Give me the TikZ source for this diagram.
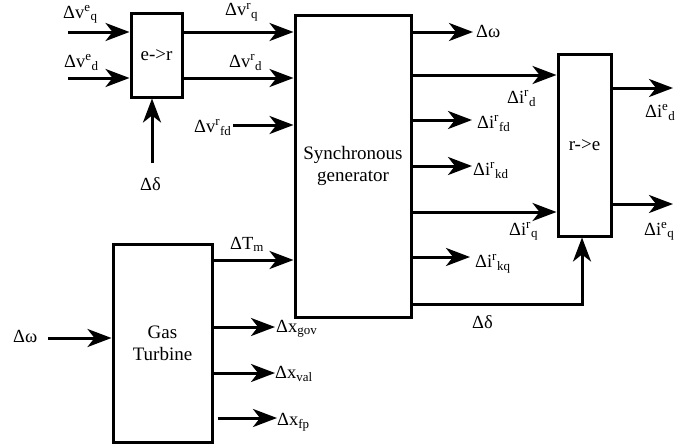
\documentclass[tikz,border=0pt]{standalone}
\usepackage{fontspec}
\setmainfont{Liberation Serif}
\newfontfamily\tms{Liberation Serif}
\usetikzlibrary{arrows.meta}
\tikzset{
  blk/.style={draw, line width=3pt, inner sep=0pt, align=center, font=\tms\fontsize{19}{22}\selectfont},
  arr/.style={line width=3pt, -{Stealth[length=24pt,width=18pt,inset=7pt]}},
  lab/.style={inner sep=0pt, anchor=base west, font=\tms\fontsize{18.5}{21}\selectfont},
}
\newcommand{\sv}[2]{\textsuperscript{#1}\textsubscript{#2}}
\begin{document}
\begin{tikzpicture}[x=1pt,y=-1pt]
\useasboundingbox (0,0) rectangle (679,447);
% blocks
\node[blk, minimum width=51pt, minimum height=84pt] (er) at (156.5,55) {e->r};
\node[blk, minimum width=116pt, minimum height=302pt] (sg) at (353,166) {Synchronous\\generator};
\node[blk, minimum width=53pt, minimum height=182pt] (re) at (584.5,145) {r->e};
\node[blk, minimum width=99pt, minimum height=198pt] (gt) at (162.5,343) {Gas\\Turbine};
% coordinates
\coordinate (c1) at (68,32);
\coordinate (c2) at (68,78);
\coordinate (c3) at (152,163);
\coordinate (c4) at (233,125);
\coordinate (o1) at (473,32);
\coordinate (o2) at (0,75);
\coordinate (o3) at (472,120);
\coordinate (o4) at (472,166);
\coordinate (o5) at (0,212);
\coordinate (o6) at (470,257);
\coordinate (cd) at (582,304);
\coordinate (r1) at (673,88);
\coordinate (r2) at (673,204);
\coordinate (tm) at (0,260);
\coordinate (w1) at (48,338);
\coordinate (g1) at (275,327);
\coordinate (g2) at (275,373);
\coordinate (g3) at (277,418);
% connectors
\draw[arr] (c1) -- (c1 -| er.west);
\draw[arr] (c2) -- (c2 -| er.west);
\draw[arr] (c3) -- (c3 |- er.south);
\draw[arr] (er.east |- c1) -- (sg.west |- c1);
\draw[arr] (er.east |- c2) -- (sg.west |- c2);
\draw[arr] (c4) -- (c4 -| sg.west);
\draw[arr] (sg.east |- o1) -- (o1);
\draw[arr] (sg.east |- o2) -- (re.west |- o2);
\draw[arr] (sg.east |- o3) -- (o3);
\draw[arr] (sg.east |- o4) -- (o4);
\draw[arr] (sg.east |- o5) -- (re.west |- o5);
\draw[arr] (sg.east |- o6) -- (o6);
\draw[arr] (sg.east |- cd) -- (cd) -- (cd |- re.south);
\draw[arr] (re.east |- r1) -- (r1);
\draw[arr] (re.east |- r2) -- (r2);
\draw[arr] (gt.east |- tm) -- (sg.west |- tm);
\draw[arr] (w1) -- (w1 -| gt.west);
\draw[arr] (gt.east |- g1) -- (g1);
\draw[arr] (gt.east |- g2) -- (g2);
\draw[arr] ([xshift=4pt]gt.east |- g3) -- (g3);
% labels
\node[lab] (l1) at (63,18) {Δv\sv{e}{q}};
\node[lab] (l2) at (64,67) {Δv\sv{e}{d}};
\node[lab] (l3) at (140,190) {Δδ};
\node[lab] (l4) at (225,16) {Δv\sv{r}{q}};
\node[lab] (l5) at (229,67) {Δv\sv{r}{d}};
\node[lab] (l6) at (194,132) {Δv\sv{r}{fd}};
\node[lab] (l7) at (476,37) {Δω};
\node[lab] (l8) at (507,103) {Δi\sv{r}{d}};
\node[lab] (l9) at (477,128) {Δi\sv{r}{fd}};
\node[lab] (l10) at (473,175) {Δi\sv{r}{kd}};
\node[lab] (l11) at (509,235) {Δi\sv{r}{q}};
\node[lab] (l12) at (475,267) {Δi\sv{r}{kq}};
\node[lab] (l13) at (472,328) {Δδ};
\node[lab] (l14) at (645,117) {Δi\sv{e}{d}};
\node[lab] (l15) at (644,235) {Δi\sv{e}{q}};
\node[lab] (l16) at (230,249) {ΔT\textsubscript{m}};
\node[lab] (l17) at (13,342) {Δω};
\node[lab] (l18) at (276,332) {Δx\textsubscript{gov}};
\node[lab] (l19) at (275,378) {Δx\textsubscript{val}};
\node[lab] (l20) at (277,425) {Δx\textsubscript{fp}};
\end{tikzpicture}
\end{document}
